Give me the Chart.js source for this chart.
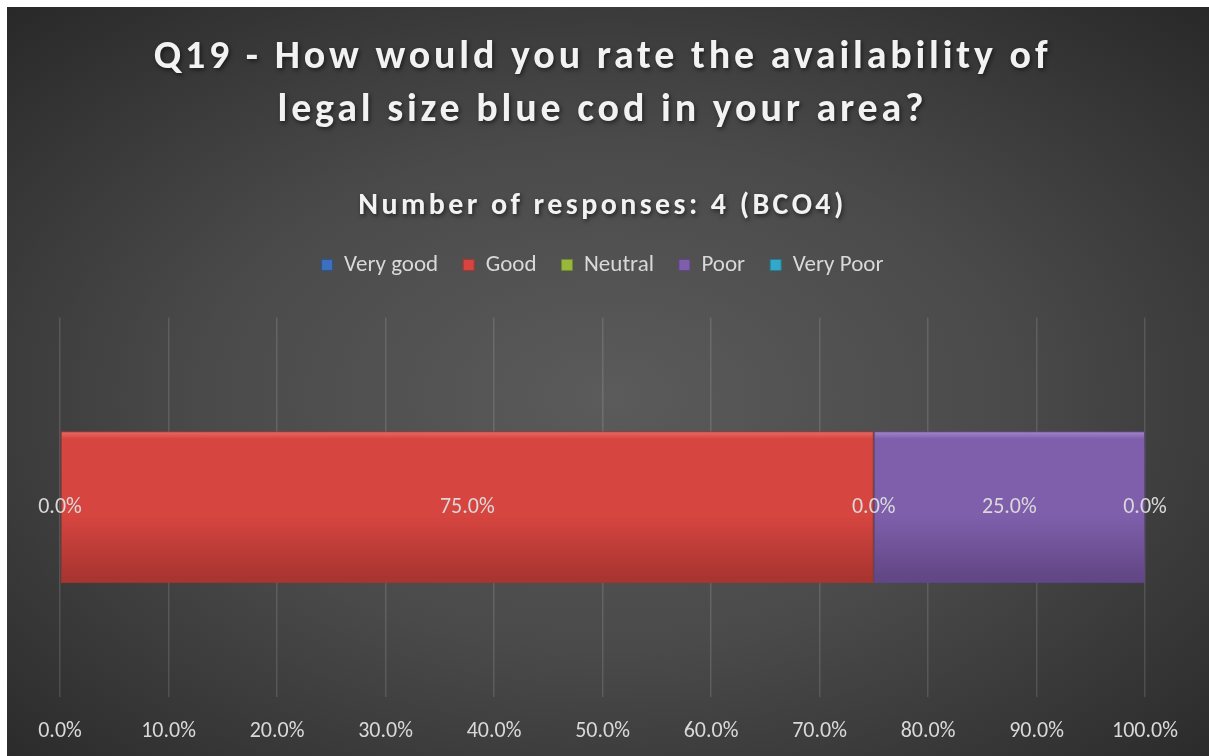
<!DOCTYPE html>
<html lang="en">
<head>
  <meta charset="UTF-8">
  <title>Q19 - Availability of legal size blue cod</title>
  <script src="https://cdn.jsdelivr.net/npm/chart.js"></script>
  <style>
    html, body { margin: 0; padding: 0; background: #fff; }
    #chartBox {
      position: absolute;
      left: 7px; top: 7px;
      width: 1202px; height: 749px;
      background: radial-gradient(ellipse 75% 75% at 50% 52%, #5b5b5b 0%, #4a4a4a 45%, #262626 100%);
    }
  </style>
</head>
<body>
  <div id="chartBox">
    <canvas id="ratingChart" width="1202" height="749"></canvas>
  </div>

  <script>
    const categories = ["BCO4"];
    const ratings = ["Very good", "Good", "Neutral", "Poor", "Very Poor"];
    const shares = [0, 75, 0, 25, 0];          // percent of responses
    const ratingColors = ["#3d6fbf", "#d74540", "#98b83c", "#7f5fac", "#33a8c8"];
    const ratingLight = ["#6b93d6", "#ec6b66", "#b6d35d", "#a587cf", "#62c4df"];
    const ratingDark = ["#2c548f", "#a93531", "#718a2c", "#624786", "#257d95"];
    const xTicks = [0, 10, 20, 30, 40, 50, 60, 70, 80, 90, 100];

    const FONT = "Carlito, Lato, 'Open Sans', sans-serif";
    const LABEL_GREY = "#d9d9d9";

    // vertical shading for the bars, like the bevelled Office fills
    function barFill(i) {
      return ctx => {
        const area = ctx.chart.chartArea;
        if (!area) return ratingColors[i];
        const h = area.bottom - area.top;
        const g = ctx.chart.ctx.createLinearGradient(0, area.top + h * 0.3, 0, area.top + h * 0.7);
        g.addColorStop(0, ratingLight[i]);
        g.addColorStop(0.05, ratingColors[i]);
        g.addColorStop(0.55, ratingColors[i]);
        g.addColorStop(0.96, ratingDark[i]);
        g.addColorStop(1, ratingDark[i]);
        return g;
      };
    }

    // letter spacing + shadow for titles, extra room under the legend
    const layoutTweaks = {
      id: 'layoutTweaks',
      afterInit(chart) {
        chart.boxes.forEach(box => {
          if (box === chart.legend) {
            const fit = box.fit;
            box.fit = function () { fit.call(this); this.height += 31; };
          } else if (!box.axis && box.options && box.options.text) {
            const draw = box.draw;
            box.draw = function (area) {
              const c = this.ctx;
              c.save();
              c.letterSpacing = this.options.font.size > 35 ? '3.8px' : '3.4px';
              c.shadowColor = 'rgba(0,0,0,0.55)';
              c.shadowBlur = 4;
              c.shadowOffsetX = 1.5;
              c.shadowOffsetY = 2;
              draw.call(this, area);
              c.restore();
            };
          }
        });
      }
    };

    // percentage labels in the middle of every segment
    const segmentLabels = {
      id: 'segmentLabels',
      afterDatasetsDraw(chart) {
        const c = chart.ctx;
        c.save();
        c.font = "22px " + FONT;
        c.fillStyle = LABEL_GREY;
        c.textAlign = 'center';
        c.textBaseline = 'middle';
        chart.data.datasets.forEach((ds, i) => {
          chart.getDatasetMeta(i).data.forEach((bar, j) => {
            const x = (bar.x + bar.base) / 2;
            c.fillText(ds.data[j].toFixed(1) + '%', x, bar.y);
          });
        });
        c.restore();
      }
    };

    new Chart(document.getElementById('ratingChart'), {
      type: 'bar',
      data: {
        labels: categories,
        datasets: ratings.map((name, i) => ({
          label: name,
          data: [shares[i]],
          backgroundColor: barFill(i),
          borderColor: ratingDark[i],
          borderWidth: 1,
          borderSkipped: false,
          barPercentage: 1,
          categoryPercentage: 0.4
        }))
      },
      options: {
        indexAxis: 'y',
        responsive: false,
        animation: false,
        layout: { padding: { left: 53, right: 64, top: 0, bottom: 0 } },
        scales: {
          x: {
            stacked: true,
            min: 0,
            max: 100,
            afterBuildTicks: axis => { axis.ticks = xTicks.map(v => ({ value: v })); },
            afterFit: axis => { axis.height = 59; },
            ticks: {
              color: LABEL_GREY,
              font: { family: FONT, size: 22 },
              padding: 21,
              callback: v => v.toFixed(1) + '%'
            },
            grid: { color: 'rgba(255,255,255,0.13)', lineWidth: 1.5, drawTicks: false },
            border: { display: false }
          },
          y: { stacked: true, display: false }
        },
        plugins: {
          title: {
            display: true,
            text: ["Q19 - How would you rate the availability of", "legal size blue cod in your area?"],
            color: '#f2f2f2',
            font: { family: FONT, size: 40, weight: 'bold', lineHeight: 1.325 },
            padding: { top: 24, bottom: 40 }
          },
          subtitle: {
            display: true,
            text: "Number of responses: 4 (BCO4)",
            color: '#f2f2f2',
            font: { family: FONT, size: 30, weight: 'bold', lineHeight: 1.2 },
            padding: { top: 11, bottom: 4.5 }
          },
          legend: {
            position: 'top',
            labels: {
              color: LABEL_GREY,
              font: { family: FONT, size: 23 },
              boxWidth: 11,
              boxHeight: 11,
              padding: 25,
              generateLabels: chart => ratings.map((name, i) => ({
                text: name,
                fillStyle: ratingColors[i],
                strokeStyle: ratingDark[i],
                lineWidth: 1,
                fontColor: LABEL_GREY,
                datasetIndex: i
              }))
            }
          },
          tooltip: { enabled: false }
        }
      },
      plugins: [layoutTweaks, segmentLabels]
    });
  </script>
</body>
</html>
